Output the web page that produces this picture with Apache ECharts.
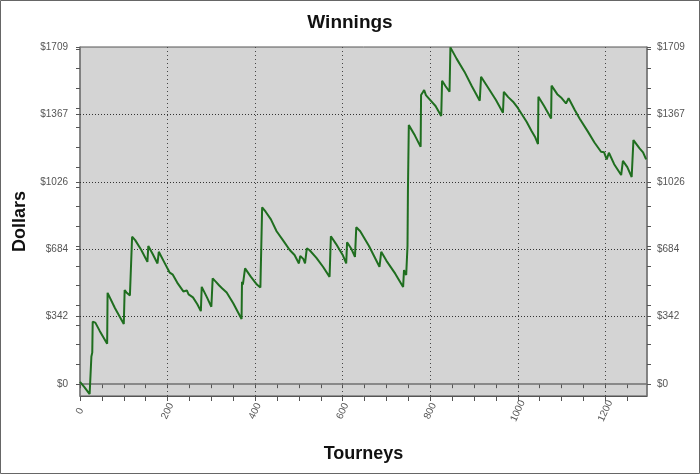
<!DOCTYPE html>
<html>
<head>
<meta charset="utf-8">
<script src="https://cdn.jsdelivr.net/npm/echarts@6/dist/echarts.min.js"></script>
<style>
html,body{margin:0;padding:0;background:#fff;}
#c{width:700px;height:474px;}
</style>
</head>
<body>
<div id="c"></div>
<script>
// ---- data ----
var tourneys = [0,10,22,25,26,27,28,29,35,45,62,63,80,100,102,106,110,114,118,119,126,140,154,156,166,177,180,192,205,212,222,236,240,244,248,252,258,268,276,278,290,300,303,310,318,325,335,350,369,370,372,377,390,404,412,415,416,424,436,449,465,479,490,500,503,510,514,518,524,540,555,570,573,585,600,608,610,620,628,631,640,660,684,688,700,720,738,740,745,748,749,751,765,778,779,783,786,790,800,812,825,827,835,844,846,850,860,878,895,913,916,930,950,966,968,978,989,1000,1020,1031,1040,1046,1047,1060,1076,1077,1090,1100,1110,1116,1130,1141,1160,1175,1190,1197,1203,1208,1220,1236,1240,1250,1260,1264,1278,1286,1293];
var winnings = [12,-15,-50,-58,140,150,160,316,312,270,205,463,385,305,477,465,460,450,446,747,730,680,620,700,660,612,671,620,565,555,515,470,460,475,455,465,440,405,370,493,440,392,536,520,500,485,465,410,330,519,505,587,545,505,490,485,896,874,835,775,725,680,655,612,650,635,612,688,680,640,595,544,750,710,655,612,719,685,645,795,775,700,595,671,625,560,493,578,553,700,984,1313,1260,1203,1466,1480,1491,1465,1440,1410,1359,1538,1510,1482,1707,1700,1650,1584,1510,1437,1558,1510,1440,1376,1482,1455,1432,1400,1330,1285,1250,1217,1457,1410,1347,1513,1470,1450,1423,1449,1390,1347,1280,1225,1178,1175,1139,1173,1115,1060,1132,1100,1050,1237,1195,1175,1139];

var yMajorValues = [0, 341.8, 683.6, 1025.4, 1367.2, 1709];
var yTickLabels  = ['$0', '$342', '$684', '$1026', '$1367', '$1709'];
var yMinorValues = [100,200,300,400,500,600,700,800,900,1000,1100,1200,1300,1400,1500,1600,1700];
var xTickLabels  = [0, 200, 400, 600, 800, 1000, 1200];
var xMinorValues = [0,50,100,150,200,250,300,350,400,450,500,550,600,650,700,750,800,850,900,950,1000,1050,1100,1150,1200,1250];
var xMin = 0, xMax = 1295, yMin = -60, yMax = 1709;

var seriesData = tourneys.map(function (t, i) { return [t, winnings[i]]; });
var yTickAll = yMajorValues.concat(yMinorValues).sort(function(a,b){return a-b;});

function yLabel(v) {
  var best = 0, d = Infinity;
  for (var i = 0; i < yMajorValues.length; i++) {
    var dd = Math.abs(yMajorValues[i] - v);
    if (dd < d) { d = dd; best = i; }
  }
  return yTickLabels[best];
}

var FONT = '"Liberation Sans", Arial, sans-serif';
var chart = echarts.init(document.getElementById('c'), null, {renderer: 'canvas'});

var yAxisBase = function (pos) {
  return {
    type: 'value', position: pos, min: yMin, max: yMax,
    axisLine: {show: true, onZero: false, lineStyle: {color: '#7a7a7a', width: 1.5}},
    axisTick: {show: true, customValues: yTickAll, length: 4, inside: false, lineStyle: {color: '#555'}},
    axisLabel: {show: true, customValues: yMajorValues, formatter: yLabel, color: '#555', fontSize: 10, fontFamily: FONT, margin: pos === 'left' ? 12 : 10},
    splitLine: {show: false}
  };
};

var option = {
  animation: false,
  backgroundColor: '#ffffff',
  title: {
    text: 'Winnings', left: 'center', top: 8,
    textStyle: {fontFamily: FONT, fontSize: 19, fontWeight: 'bold', color: '#111'}
  },
  grid: {
    left: 80, right: 53, top: 47, bottom: 78,
    show: true, backgroundColor: '#d4d4d4', borderColor: '#555', borderWidth: 1
  },
  xAxis: [
    {
      type: 'value', position: 'bottom', min: xMin, max: xMax,
      name: 'Tourneys', nameLocation: 'middle', nameGap: 49,
      nameTextStyle: {fontFamily: FONT, fontSize: 18, fontWeight: 'bold', color: '#111'},
      axisLine: {show: true, onZero: false, lineStyle: {color: '#555', width: 1}},
      axisTick: {show: true, customValues: xMinorValues, length: 5, lineStyle: {color: '#555'}},
      axisLabel: {show: true, customValues: xTickLabels, rotate: 65, align: 'center', verticalAlign: 'middle',
                  formatter: function (v) { return String(v); },
                  margin: 15, color: '#555', fontSize: 10, fontFamily: FONT},
      splitLine: {show: false}
    },
    {
      type: 'value', position: 'top', min: xMin, max: xMax,
      axisLine: {show: false},
      axisTick: {show: true, customValues: xMinorValues, inside: true, length: 4, lineStyle: {color: '#555'}},
      axisLabel: {show: false},
      splitLine: {show: false}
    }
  ],
  yAxis: [
    Object.assign(yAxisBase('left'), {
      name: 'Dollars', nameLocation: 'middle', nameGap: 46, nameRotate: 90,
      nameTextStyle: {fontFamily: FONT, fontSize: 18, fontWeight: 'bold', color: '#111'}
    }),
    yAxisBase('right')
  ],
  graphic: [
    {type: 'rect', silent: true, z: 100,
     shape: {x: 0.5, y: 0.5, width: 699, height: 473},
     style: {fill: 'none', stroke: '#666', lineWidth: 1}}
  ],
  series: [
    {
      type: 'line', name: 'grid', data: [], xAxisIndex: 0, yAxisIndex: 0, z: 1, silent: true,
      markLine: {
        silent: true, symbol: ['none', 'none'], label: {show: false}, animation: false,
        data: [
          {yAxis: yMajorValues[1], lineStyle: {type: [1, 2], color: '#333', width: 1}},
          {yAxis: yMajorValues[2], lineStyle: {type: [1, 2], color: '#333', width: 1}},
          {yAxis: yMajorValues[3], lineStyle: {type: [1, 2], color: '#333', width: 1}},
          {yAxis: yMajorValues[4], lineStyle: {type: [1, 2], color: '#333', width: 1}},
          {xAxis: xTickLabels[1], lineStyle: {type: [1, 3], color: '#444', width: 1}},
          {xAxis: xTickLabels[2], lineStyle: {type: [1, 3], color: '#444', width: 1}},
          {xAxis: xTickLabels[3], lineStyle: {type: [1, 3], color: '#444', width: 1}},
          {xAxis: xTickLabels[4], lineStyle: {type: [1, 3], color: '#444', width: 1}},
          {xAxis: xTickLabels[5], lineStyle: {type: [1, 3], color: '#444', width: 1}},
          {xAxis: xTickLabels[6], lineStyle: {type: [1, 3], color: '#444', width: 1}},
          {yAxis: yMajorValues[0], lineStyle: {type: 'solid', color: '#707070', width: 1.5}}
        ]
      }
    },
    {
      type: 'line', name: 'Winnings', data: seriesData, xAxisIndex: 0, yAxisIndex: 0, z: 5,
      showSymbol: false, symbol: 'none',
      lineStyle: {color: '#1f6e1f', width: 2},
      itemStyle: {color: '#1f6e1f'}
    }
  ]
};
chart.setOption(option);
</script>
</body>
</html>
